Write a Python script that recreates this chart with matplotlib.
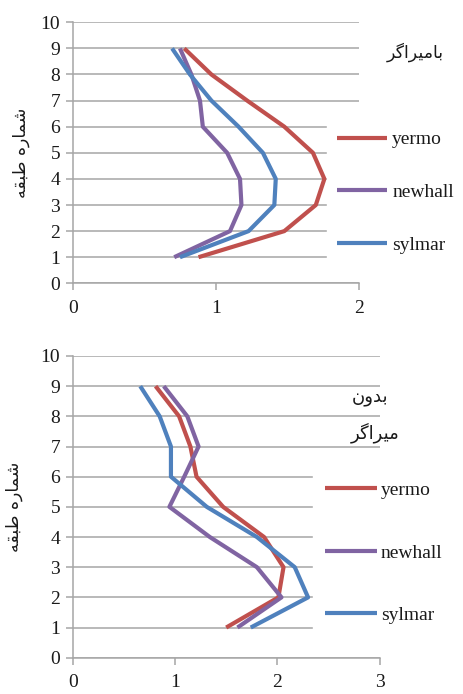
import matplotlib
matplotlib.use("Agg")
import matplotlib.pyplot as plt
import numpy as np

# storeys (y axis)
floors = [1, 2, 3, 4, 5, 6, 7, 8, 9]
series_names = ["yermo", "newhall", "sylmar"]

# with damper (top)
top_yermo = [0.88, 1.48, 1.70, 1.76, 1.68, 1.48, 1.22, 0.97, 0.78]
top_newhall = [0.71, 1.10, 1.18, 1.17, 1.08, 0.91, 0.89, 0.83, 0.75]
top_sylmar = [0.75, 1.23, 1.41, 1.42, 1.33, 1.16, 0.97, 0.82, 0.695]

# without damper (bottom)
bot_yermo = [1.50, 2.01, 2.06, 1.87, 1.47, 1.21, 1.15, 1.04, 0.81]
bot_newhall = [1.61, 2.04, 1.80, 1.34, 0.945, 1.09, 1.23, 1.12, 0.89]
bot_sylmar = [1.74, 2.30, 2.17, 1.80, 1.31, 0.96, 0.96, 0.85, 0.66]

# Persian labels, pre-shaped (presentation forms, visual order)
ylabel_fa = "\uFEEA\uFED8\uFE92\uFEC3 \uFEE9\uFEAD\uFE8E\uFEE4\uFEB7"   # شماره طبقه
top_note = "\uFEAE\uFB94\uFE8D\uFEAE\uFEF4\uFEE3\uFE8E\uFE91"        # بامیراگر
bot_note1 = "\uFEE5\uFEED\uFEAA\uFE91"                               # بدون
bot_note2 = "\uFEAE\uFB94\uFE8D\uFEAE\uFEF4\uFEE3"                   # میراگر

colors = ["#C0504D", "#8064A2", "#4F81BD"]
grid_c = "#a6a6a6"
serif = "Liberation Serif"
fa_font = ["DejaVu Sans"]

W, H = 464, 694
fig = plt.figure(figsize=(W / 100, H / 100), dpi=100)


def px_axes(l, r, t, b):
    return fig.add_axes([l / W, 1 - b / H, (r - l) / W, (b - t) / H])


def style(ax, xmax, label_x):
    ax.set_xlim(0, xmax)
    ax.set_ylim(0, 10)
    ax.set_xticks(range(0, xmax + 1))
    ax.set_yticks(range(0, 11))
    ax.yaxis.grid(True, color=grid_c, linewidth=1.1)
    ax.set_axisbelow(True)
    for s in ["top", "right"]:
        ax.spines[s].set_visible(False)
    for s in ["left", "bottom"]:
        ax.spines[s].set_color(grid_c)
        ax.spines[s].set_linewidth(1.1)
    ax.tick_params(axis="both", colors=grid_c, labelcolor="#1a1a1a",
                   length=5, width=1.1, labelsize=14)
    ax.tick_params(axis="x", pad=7)
    ax.tick_params(axis="y", pad=4)
    for lab in ax.get_xticklabels() + ax.get_yticklabels():
        lab.set_fontfamily(serif)
    ax.set_ylabel(ylabel_fa, family=fa_font, fontsize=12.5, color="#1a1a1a")
    ax.yaxis.set_label_coords(label_x, 0.5)


# ---- top panel
ax1 = px_axes(72.7, 358.7, 22.3, 283.3)
for vals, name, c in zip([top_yermo, top_newhall, top_sylmar], series_names, colors):
    ax1.plot(vals, floors, color=c, linewidth=3, label=name, solid_capstyle="butt")
style(ax1, 2, -0.15)
leg1 = ax1.legend(loc="upper left", bbox_to_anchor=(327 / W, 1 - 121 / H),
                  bbox_transform=fig.transFigure, frameon=True, fancybox=False,
                  facecolor="white", edgecolor="white", framealpha=1,
                  handlelength=2.6, handletextpad=0.25, labelspacing=1.8,
                  borderpad=0.5, borderaxespad=0,
                  prop={"family": serif, "size": 14})
for t in leg1.get_texts():
    t.set_color("#1a1a1a")
fig.text(415 / W, 1 - 52 / H, top_note, family=fa_font, fontsize=12.5,
         ha="center", va="center", color="#1a1a1a")

# ---- bottom panel
ax2 = px_axes(72.7, 379.7, 356.0, 657.7)
for vals, name, c in zip([bot_yermo, bot_newhall, bot_sylmar], series_names, colors):
    ax2.plot(vals, floors, color=c, linewidth=3, label=name, solid_capstyle="butt")
style(ax2, 3, -0.162)
leg2 = ax2.legend(loc="upper left", bbox_to_anchor=(313 / W, 1 - 470 / H),
                  bbox_transform=fig.transFigure, frameon=True, fancybox=False,
                  facecolor="white", edgecolor="white", framealpha=1,
                  handlelength=2.7, handletextpad=0.2, labelspacing=2.3,
                  borderpad=0.6, borderaxespad=0,
                  prop={"family": serif, "size": 14})
for t in leg2.get_texts():
    t.set_color("#1a1a1a")
fig.text(370 / W, 1 - 398 / H, bot_note1, family=fa_font, fontsize=13,
         ha="center", va="center", color="#1a1a1a")
fig.text(375 / W, 1 - 433 / H, bot_note2, family=fa_font, fontsize=13,
         ha="center", va="center", color="#1a1a1a")

fig.savefig("out.png", dpi=100, facecolor="white")
